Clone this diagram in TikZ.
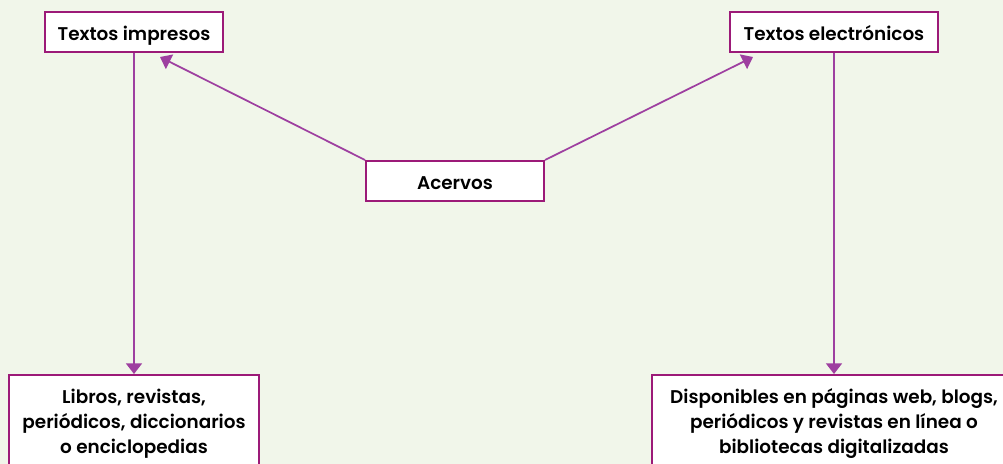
\documentclass[tikz,border=0pt]{standalone}
\usepackage{fontspec}
\setmainfont{Poppins}[BoldFont={Poppins SemiBold}]
\usetikzlibrary{positioning}
\usetikzlibrary{arrows.meta}
\definecolor{fondo}{HTML}{F1F6EA}
\definecolor{borde}{HTML}{9C1A78}
\definecolor{flecha}{HTML}{9E3FA0}
\begin{document}
\begin{tikzpicture}[x=0.75pt, y=-0.75pt,
                    caja/.style={draw=borde, line width=1.5pt, fill=white, align=center,
                        inner sep=0pt, minimum width=#1*0.75pt, minimum height=30pt,
                        font=\fontsize{13.8}{18.75}\selectfont\bfseries},
                    linea/.style={text height=13pt, text depth=1pt},
                    flechita/.style={draw=flecha, line width=1.3pt, -{Triangle[length=8pt, width=12pt]}}]
    \fill[fondo] (0,0) rectangle (1003,464);
    \useasboundingbox (0,0) rectangle (1003,464);
    \node[caja=178, linea] (impresos) at (134,32) {Textos impresos};
    \node[caja=208, linea] (electronicos) at (834,32) {Textos electrónicos};
    \node[caja=178, linea] (acervos) at (455,181) {Acervos};
    \node[caja=250, minimum height=118*0.75pt, anchor=north] (libros) at (134,374)
        {Libros, revistas,\\ periódicos, diccionarios\\ o enciclopedias\\ \mbox{}};
    \node[caja=364, minimum height=118*0.75pt, anchor=north] (disponibles) at (834,374)
        {Disponibles en páginas web, blogs,\\ periódicos y revistas en línea o\\ bibliotecas digitalizadas\\ \mbox{}};
    % puntas libres de las flechas
    \coordinate (puntaimp) at (160,57);
    \coordinate (puntaelec) at (753,57);
    \draw[flechita] (acervos.north west) -- (puntaimp);
    \draw[flechita] (acervos.north east) -- (puntaelec);
    \draw[flechita] (impresos.south) -- (libros.north);
    \draw[flechita] (electronicos.south) -- (disponibles.north);
\end{tikzpicture}
\end{document}
